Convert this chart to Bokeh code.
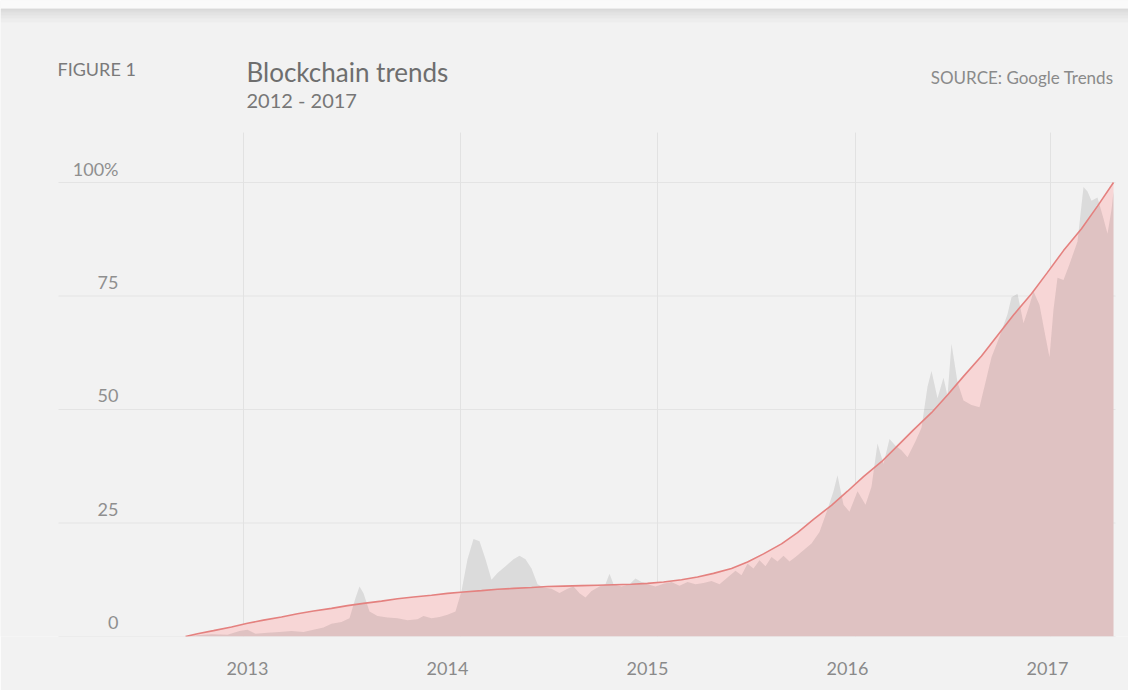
from bokeh.plotting import figure
from bokeh.models import Range1d, FixedTicker, Label, BoxAnnotation
from bokeh.core.properties import value
from bokeh.embed import file_html
from bokeh.resources import INLINE

# ---- data (decimal years / percent of peak) ----
trend_x = [2012.69, 2012.75, 2012.83, 2012.92, 2013.0, 2013.08, 2013.17, 2013.25, 2013.33, 2013.42,
           2013.5, 2013.58, 2013.67, 2013.75, 2013.83, 2013.92, 2014.0, 2014.08, 2014.17, 2014.25,
           2014.33, 2014.42, 2014.5, 2014.58, 2014.67, 2014.75, 2014.83, 2014.92, 2015.0, 2015.08,
           2015.17, 2015.25, 2015.33, 2015.42, 2015.5, 2015.58, 2015.67, 2015.75, 2015.83, 2015.92,
           2016.0, 2016.08, 2016.17, 2016.25, 2016.33, 2016.42, 2016.5, 2016.58, 2016.67, 2016.75,
           2016.83, 2016.92, 2017.0, 2017.08, 2017.17, 2017.25, 2017.33]
trend_y = [0, 0.6, 1.3, 2.1, 2.9, 3.6, 4.3, 5.0, 5.6, 6.2,
           6.8, 7.3, 7.8, 8.3, 8.7, 9.1, 9.5, 9.8, 10.1, 10.4,
           10.6, 10.8, 11.0, 11.1, 11.2, 11.3, 11.4, 11.5, 11.7, 12.0,
           12.5, 13.1, 13.9, 15.0, 16.4, 18.2, 20.4, 22.9, 25.8, 28.9,
           32.0, 35.2, 38.5, 42.0, 45.5, 49.3, 53.2, 57.3, 61.8, 66.3,
           70.8, 75.5, 80.2, 85.0, 89.8, 94.8, 100.0]

search_x = [2012.69, 2012.75, 2012.82, 2012.9, 2012.96, 2013.0, 2013.04, 2013.1, 2013.16, 2013.22,
            2013.28, 2013.33, 2013.38, 2013.42, 2013.47, 2013.51, 2013.54, 2013.56, 2013.58, 2013.61,
            2013.65, 2013.7, 2013.75, 2013.8, 2013.85, 2013.88, 2013.92, 2013.96, 2014.0, 2014.04,
            2014.07, 2014.1, 2014.13, 2014.16, 2014.19, 2014.22, 2014.25, 2014.29, 2014.33, 2014.36,
            2014.39, 2014.42, 2014.45, 2014.48, 2014.52, 2014.56, 2014.6, 2014.63, 2014.66, 2014.69,
            2014.72, 2014.76, 2014.79, 2014.81, 2014.83, 2014.87, 2014.91, 2014.94, 2014.97, 2015.0,
            2015.04, 2015.08, 2015.12, 2015.16, 2015.2, 2015.24, 2015.28, 2015.32, 2015.36, 2015.4,
            2015.44, 2015.47, 2015.5, 2015.53, 2015.56, 2015.59, 2015.62, 2015.65, 2015.68, 2015.71,
            2015.74, 2015.78, 2015.82, 2015.86, 2015.9, 2015.93, 2015.95, 2015.98, 2016.01, 2016.05,
            2016.09, 2016.12, 2016.15, 2016.18, 2016.21, 2016.24, 2016.27, 2016.3, 2016.34, 2016.37,
            2016.4, 2016.42, 2016.45, 2016.48, 2016.5, 2016.52, 2016.55, 2016.58, 2016.62, 2016.66,
            2016.69, 2016.72, 2016.76, 2016.8, 2016.82, 2016.85, 2016.88, 2016.91, 2016.93, 2016.96,
            2016.99, 2017.01, 2017.03, 2017.05, 2017.08, 2017.11, 2017.15, 2017.18, 2017.2, 2017.22,
            2017.25, 2017.28, 2017.3, 2017.32, 2017.33]
search_y = [0, 0.3, 0.5, 0.4, 1.2, 1.5, 0.6, 0.8, 1.0, 1.2,
            1.0, 1.5, 2.0, 2.8, 3.2, 4.0, 8.5, 11.0, 9.5, 5.5,
            4.5, 4.2, 4.0, 3.6, 3.8, 4.5, 4.0, 4.3, 4.8, 5.5,
            10.0, 17.0, 21.5, 21.0, 17.0, 12.5, 14.0, 15.5, 17.0, 17.8,
            17.0, 15.0, 11.5, 10.8, 10.5, 9.6, 10.5, 11.0, 9.5, 8.6,
            10.0, 11.0, 11.5, 13.8, 11.5, 11.0, 11.5, 12.8, 12.0, 11.5,
            11.0, 11.6, 12.0, 11.2, 12.0, 11.5, 11.8, 12.2, 11.5, 13.0,
            14.5, 13.5, 16.0, 15.0, 16.8, 15.5, 17.5, 16.5, 17.8, 16.5,
            17.5, 19.0, 20.5, 23.0, 28.0, 32.0, 35.5, 29.0, 27.5, 32.0,
            29.0, 33.0, 42.5, 38.0, 43.5, 42.0, 41.0, 39.5, 43.0, 46.0,
            55.0, 58.5, 52.5, 57.0, 53.0, 64.5, 56.0, 52.0, 51.0, 50.5,
            56.0, 61.5, 66.0, 71.0, 74.7, 75.5, 69.0, 73.0, 76.0, 73.0,
            66.0, 61.5, 72.0, 79.0, 78.5, 82.0, 87.0, 99.0, 98.0, 96.0,
            96.7, 92.0, 88.7, 94.0, 98.0]

year_ticks = [2013, 2014, 2015, 2016, 2017]
grid_years = [2012.98, 2014.065, 2015.05, 2016.04, 2017.015]
y_ticks = [0, 25, 50, 75, 100]
y_labels = ["0", "25", "50", "75", "100%"]
grid_top = 111

BG = "#f2f2f2"
FONT = "Lato"

# page geometry: frame covers x=0..1128, y=0..636 ; 200 px per year, 4.54 px per point
X0 = 2013 - 247 / 200.0
X1 = X0 + 1128 / 200.0
Y1 = 636 / 4.54

p = figure(width=1128, height=690, output_backend="svg", toolbar_location=None,
           x_range=Range1d(X0, X1), y_range=Range1d(0, Y1),
           min_border_left=0, min_border_right=0, min_border_top=0, min_border_bottom=54)
p.background_fill_color = BG
p.border_fill_color = BG
p.outline_line_color = None


def px(x):
    return X0 + x / 200.0


def py(y):
    return (636 - y) / 4.54


# top white band with a soft shadow
p.add_layout(BoxAnnotation(bottom=py(8), fill_color="#fafafa", fill_alpha=1.0, line_color=None))
for b in [10, 12, 15, 18, 22]:
    p.add_layout(BoxAnnotation(bottom=py(b), top=py(8), fill_color="#000000",
                               fill_alpha=0.02, line_color=None))

# grids (horizontal lines span the plotting area only)
p.xgrid.visible = False
p.ygrid.visible = False
n = len(y_ticks)
p.segment(x0=[px(58)] * n, y0=y_ticks, x1=[px(1115)] * n, y1=y_ticks,
          line_color="#e4e4e4", line_width=1)
m = len(grid_years)
p.segment(x0=grid_years, y0=[0] * m, x1=grid_years, y1=[grid_top] * m,
          line_color="#e2e2e2", line_width=1)

# areas
p.varea(x=trend_x, y1=0, y2=trend_y, fill_color="#f7d6d6", fill_alpha=1.0)
p.varea(x=search_x, y1=0, y2=search_y, fill_color="#141414", fill_alpha=0.1)
p.line(x=trend_x, y=trend_y, line_color="#e4817f", line_width=1.6)

# axes
p.yaxis.visible = False
xa = p.xaxis[0]
xa.ticker = FixedTicker(ticks=year_ticks)
xa.axis_line_color = None
xa.major_tick_line_color = None
xa.minor_tick_line_color = None
xa.major_label_standoff = 19
xa.major_label_text_font = FONT
xa.major_label_text_font_size = "18px"
xa.major_label_text_color = "#8a8a8a"

# y labels sit above their grid lines
p.text(x=[px(118)] * n, y=y_ticks, text=y_labels,
       text_align="right", text_baseline="middle", y_offset=-14,
       text_font=value(FONT), text_font_size="18px", text_color="#8f8f8f")

p.add_layout(Label(x=px(57), y=py(68), text="FIGURE 1", text_font=FONT, text_font_size="18px",
                   text_color="#7a7a7a", text_baseline="middle"))
p.add_layout(Label(x=px(246), y=py(71), text="Blockchain trends", text_font=FONT,
                   text_font_size="26px", text_color="#6e6e6e", text_baseline="middle"))
p.add_layout(Label(x=px(246), y=py(99), text="2012 - 2017", text_font=FONT,
                   text_font_size="20px", text_color="#777777", text_baseline="middle"))
p.add_layout(Label(x=px(1113), y=py(77), text="SOURCE: Google Trends", text_font=FONT,
                   text_font_size="17px", text_color="#8a8a8a", text_baseline="middle",
                   text_align="right"))

open("out.html", "w").write(file_html(p, INLINE))
